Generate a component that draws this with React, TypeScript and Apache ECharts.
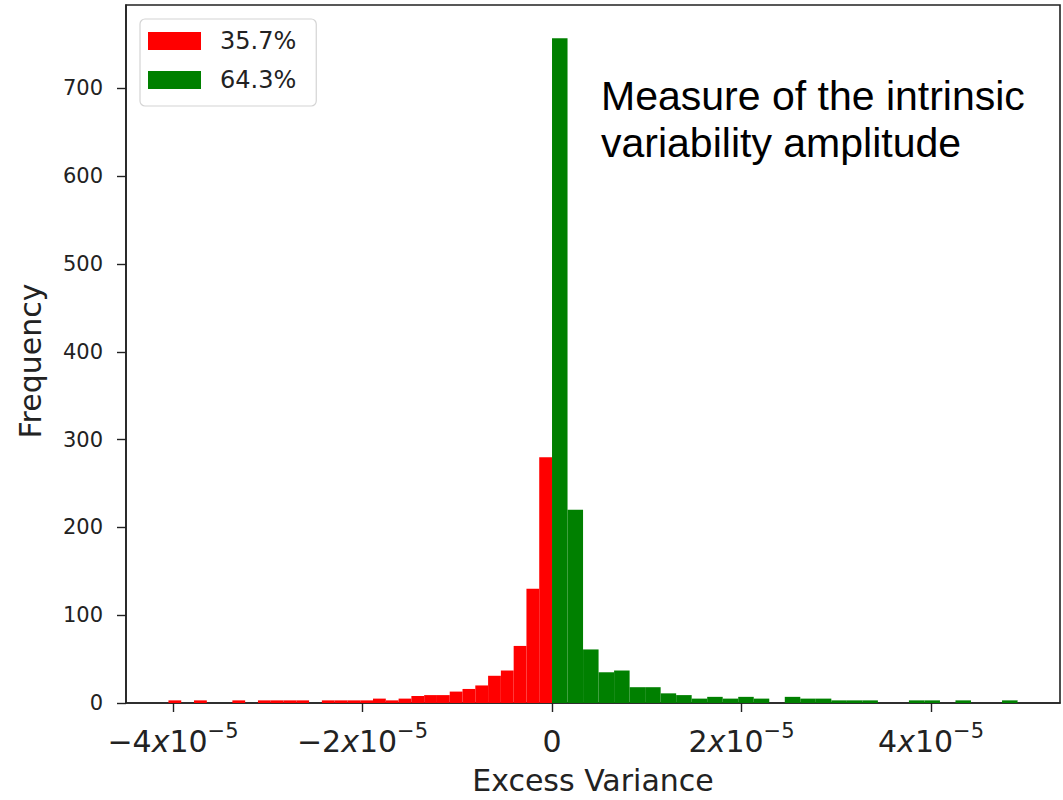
import React, { useEffect, useRef } from "react";
import * as echarts from "echarts";

// Histogram of excess variance: negative values (red) and positive values (green)
const redRange = [-4.048e-5, 0];
const redCounts = [
  3, 0, 3, 0, 0, 3, 0, 3, 3, 3, 3, 0, 3, 3, 3, 3, 5, 3, 5, 8, 9, 9, 13, 16, 20, 31, 37, 65, 130, 280,
];
const greenRange = [0, 4.913e-5];
const greenCounts = [
  757, 220, 61, 35, 37, 18, 18, 11, 9, 5, 7, 5, 7, 5, 0, 7, 5, 5, 3, 3, 3, 0, 0, 3, 3, 0, 3, 0, 0, 3,
];
const legendLabels = ["35.7%", "64.3%"];
const xTicks = [-4e-5, -2e-5, 0, 2e-5, 4e-5];
const xRange = [-4.496e-5, 5.361e-5];
const yMax = 795;
const xName = "Excess Variance";
const yName = "Frequency";
const note = ["Measure of the intrinsic", "variability amplitude"];

function toBins(range: number[], counts: number[]) {
  const w = (range[1] - range[0]) / counts.length;
  return counts.map((c, i) => [range[0] + i * w, range[0] + (i + 1) * w, c]);
}

function makeRender(color: string) {
  return (params: any, api: any) => {
    const x0 = api.value(0);
    const x1 = api.value(1);
    const c = api.value(2);
    if (!c) return null;
    const p0 = api.coord([x0, c]);
    const p1 = api.coord([x1, 0]);
    return {
      type: "rect",
      shape: { x: p0[0], y: p0[1], width: p1[0] - p0[0], height: p1[1] - p0[1] },
      style: { fill: color },
    };
  };
}

export default function App() {
  const ref = useRef<HTMLDivElement>(null);
  useEffect(() => {
    if (!ref.current) return;
    const chart = echarts.init(ref.current, null, { renderer: "svg" });
    const font = "DejaVu Sans";
    chart.setOption({
      animation: false,
      backgroundColor: "#fff",
      grid: {
        left: 126,
        right: 3,
        top: 5,
        bottom: 96,
        show: true,
        borderColor: "#222",
        borderWidth: 1.6,
        backgroundColor: "transparent",
      },
      legend: {
        orient: "vertical",
        left: 140,
        top: 19,
        padding: [10, 20, 14, 8],
        itemWidth: 53,
        itemHeight: 18,
        itemGap: 15,
        icon: "rect",
        borderColor: "#d4d4d4",
        borderWidth: 1.2,
        borderRadius: 5,
        backgroundColor: "rgba(255,255,255,0.8)",
        textStyle: { fontFamily: font, fontSize: 24, color: "#222", padding: [0, 0, 0, 14] },
        data: legendLabels,
      },
      xAxis: {
        type: "value",
        min: xRange[0],
        max: xRange[1],
        name: xName,
        nameLocation: "middle",
        nameGap: 62,
        nameTextStyle: { fontFamily: font, fontSize: 30, color: "#222" },
        axisLine: { show: true, onZero: false, lineStyle: { color: "#222", width: 1.6 } },
        axisTick: {
          show: true,
          length: 9,
          lineStyle: { color: "#222", width: 1.4 },
          customValues: xTicks,
        },
        splitLine: { show: false },
        axisLabel: {
          customValues: xTicks,
          margin: 17,
          color: "#222",
          fontFamily: font,
          formatter: (v: number) => {
            const n = Math.round(v / 1e-5);
            if (n === 0) return "{m|0}";
            return `{m|${n < 0 ? "\u2212" : ""}${Math.abs(n)}}{i|x}{m|10}{s|\u22125}`;
          },
          rich: {
            m: { fontFamily: font, fontSize: 30, color: "#222", lineHeight: 42 },
            i: { fontFamily: font, fontSize: 30, fontStyle: "italic", color: "#222", lineHeight: 42 },
            s: { fontFamily: font, fontSize: 21, color: "#222", verticalAlign: "top", lineHeight: 22 },
          },
        },
      },
      yAxis: {
        type: "value",
        min: 0,
        max: yMax,
        interval: 100,
        name: yName,
        nameLocation: "middle",
        nameGap: 81,
        nameRotate: 90,
        nameTextStyle: { fontFamily: font, fontSize: 30, color: "#222", padding: [0, 14, 0, 0] },
        axisLine: { show: true, onZero: false, lineStyle: { color: "#222", width: 1.6 } },
        axisTick: { show: true, length: 9, lineStyle: { color: "#222", width: 1.4 } },
        splitLine: { show: false },
        axisLabel: {
          margin: 23,
          fontFamily: font,
          fontSize: 21,
          color: "#222",
          showMaxLabel: false,
        },
      },
      graphic: [
        {
          type: "text",
          left: 601,
          top: 72,
          style: {
            text: note.join("\n"),
            fontFamily: "Liberation Sans",
            fontSize: 41,
            lineHeight: 47,
            fill: "#000",
          },
          z: 100,
        },
      ],
      series: [
        {
          name: legendLabels[0],
          type: "custom",
          renderItem: makeRender("#ff0000"),
          itemStyle: { color: "#ff0000" },
          encode: { x: [0, 1], y: 2 },
          data: toBins(redRange, redCounts),
        },
        {
          name: legendLabels[1],
          type: "custom",
          renderItem: makeRender("#008000"),
          itemStyle: { color: "#008000" },
          encode: { x: [0, 1], y: 2 },
          data: toBins(greenRange, greenCounts),
        },
      ],
    });
    return () => chart.dispose();
  }, []);
  return (
    <div
      ref={ref}
      style={{ position: "fixed", left: 0, top: 0, width: 1063, height: 800, background: "#fff" }}
    />
  );
}
